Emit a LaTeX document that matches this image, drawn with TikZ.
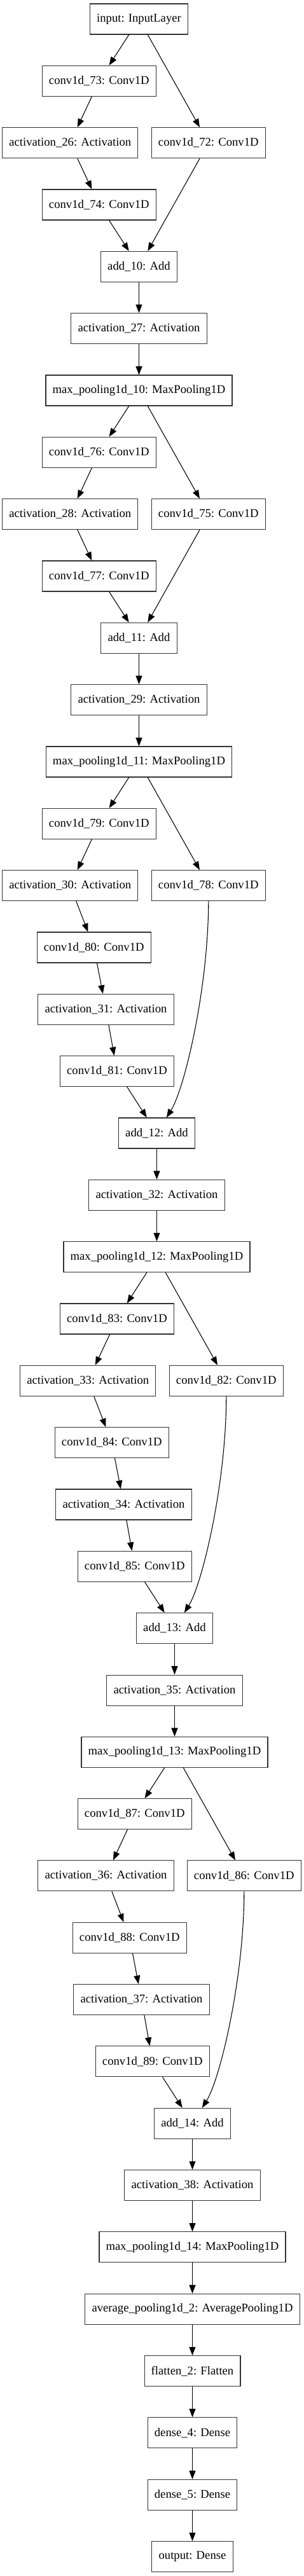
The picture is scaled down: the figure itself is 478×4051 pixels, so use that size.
\documentclass[tikz,border=0pt]{standalone}
\usepackage{fontspec}
\setmainfont{Liberation Serif}
\usetikzlibrary{arrows.meta}

\begin{document}
\begin{tikzpicture}[x=0.75pt, y=-0.75pt,
    layer/.style={draw=black!80, line width=0.8pt, minimum height=36pt,
        inner xsep=8pt, inner ysep=0pt, font=\fontsize{14}{16}\selectfont},
    flow/.style={-{Triangle[length=10pt, width=7.5pt]}, line width=0.8pt},
    skip/.style={flow, out=-90, in=58, in looseness=0.4}]
\useasboundingbox (0,0) rectangle (478,4051);
% First block
    \node[layer] (input)  at (218.5,30)   {input: InputLayer};
    \node[layer] (conv73) at (155.8,127.3) {conv1d\_73: Conv1D};
    \node[layer] (act26)  at (110.3,224.7) {activation\_26: Activation};
    \node[layer] (conv72) at (327.8,224.7) {conv1d\_72: Conv1D};
    \node[layer] (conv74) at (155.8,322.0) {conv1d\_74: Conv1D};
    \node[layer] (add10)  at (218.5,419.3) {add\_10: Add};
    \node[layer] (act27)  at (218.5,516.7) {activation\_27: Activation};
    \node[layer] (pool10) at (218.5,614.0) {max\_pooling1d\_10: MaxPooling1D};
% Second block
    \node[layer] (conv76) at (155.8,711.3) {conv1d\_76: Conv1D};
    \node[layer] (act28)  at (110.3,808.6) {activation\_28: Activation};
    \node[layer] (conv75) at (327.8,808.6) {conv1d\_75: Conv1D};
    \node[layer] (conv77) at (155.8,906.0) {conv1d\_77: Conv1D};
    \node[layer] (add11)  at (218.5,1003.3) {add\_11: Add};
    \node[layer] (act29)  at (218.5,1100.6) {activation\_29: Activation};
    \node[layer] (pool11) at (218.5,1198.0) {max\_pooling1d\_11: MaxPooling1D};
% Third block
    \node[layer] (conv79) at (155.8,1295.3) {conv1d\_79: Conv1D};
    \node[layer] (act30)  at (110.3,1392.6) {activation\_30: Activation};
    \node[layer] (conv78) at (327.8,1392.6) {conv1d\_78: Conv1D};
    \node[layer] (conv80) at (147.8,1490.0) {conv1d\_80: Conv1D};
    \node[layer] (act31)  at (166.5,1587.3) {activation\_31: Activation};
    \node[layer] (conv81) at (184.0,1684.6) {conv1d\_81: Conv1D};
    \node[layer] (add12)  at (246.5,1782.0) {add\_12: Add};
    \node[layer] (act32)  at (246.5,1879.3) {activation\_32: Activation};
    \node[layer] (pool12) at (246.5,1976.6) {max\_pooling1d\_12: MaxPooling1D};
% Fourth block
    \node[layer] (conv83) at (184.0,2074.0) {conv1d\_83: Conv1D};
    \node[layer] (act33)  at (138.3,2171.3) {activation\_33: Activation};
    \node[layer] (conv82) at (355.8,2171.3) {conv1d\_82: Conv1D};
    \node[layer] (conv84) at (175.8,2268.6) {conv1d\_84: Conv1D};
    \node[layer] (act34)  at (194.5,2366.0) {activation\_34: Activation};
    \node[layer] (conv85) at (211.8,2463.3) {conv1d\_85: Conv1D};
    \node[layer] (add13)  at (274.5,2560.6) {add\_13: Add};
    \node[layer] (act35)  at (274.5,2658.0) {activation\_35: Activation};
    \node[layer] (pool13) at (274.5,2755.3) {max\_pooling1d\_13: MaxPooling1D};
% Fifth block
    \node[layer] (conv87) at (211.8,2852.6) {conv1d\_87: Conv1D};
    \node[layer] (act36)  at (166.5,2949.9) {activation\_36: Activation};
    \node[layer] (conv86) at (383.8,2949.9) {conv1d\_86: Conv1D};
    \node[layer] (conv88) at (203.8,3047.3) {conv1d\_88: Conv1D};
    \node[layer] (act37)  at (222.5,3144.6) {activation\_37: Activation};
    \node[layer] (conv89) at (239.8,3241.9) {conv1d\_89: Conv1D};
    \node[layer] (add14)  at (302.5,3339.3) {add\_14: Add};
    \node[layer] (act38)  at (302.5,3436.6) {activation\_38: Activation};
    \node[layer] (pool14) at (302.5,3533.9) {max\_pooling1d\_14: MaxPooling1D};
% Head
    \node[layer] (avgpool) at (302.5,3631.3) {average\_pooling1d\_2: AveragePooling1D};
    \node[layer] (flat)    at (302.5,3728.6) {flatten\_2: Flatten};
    \node[layer] (dense4)  at (302.5,3825.9) {dense\_4: Dense};
    \node[layer] (dense5)  at (302.5,3923.3) {dense\_5: Dense};
    \node[layer] (output)  at (302.5,4020.6) {output: Dense};
% Edges, first block
    \draw[flow] (input) -- (conv73);
    \draw[flow] (input) -- (conv72);
    \draw[flow] (conv73) -- (act26);
    \draw[flow] (act26) -- (conv74);
    \draw[flow] (conv74) -- (add10);
    \draw[flow] (conv72) -- (add10);
    \draw[flow] (add10) -- (act27);
    \draw[flow] (act27) -- (pool10);
% Edges, second block
    \draw[flow] (pool10) -- (conv76);
    \draw[flow] (pool10) -- (conv75);
    \draw[flow] (conv76) -- (act28);
    \draw[flow] (act28) -- (conv77);
    \draw[flow] (conv77) -- (add11);
    \draw[flow] (conv75) -- (add11);
    \draw[flow] (add11) -- (act29);
    \draw[flow] (act29) -- (pool11);
% Edges, third block
    \draw[flow] (pool11) -- (conv79);
    \draw[flow] (pool11) -- (conv78);
    \draw[flow] (conv79) -- (act30);
    \draw[flow] (act30) -- (conv80);
    \draw[flow] (conv80) -- (act31);
    \draw[flow] (act31) -- (conv81);
    \draw[flow] (conv81) -- (add12);
    \draw[skip] (conv78) to (add12);
    \draw[flow] (add12) -- (act32);
    \draw[flow] (act32) -- (pool12);
% Edges, fourth block
    \draw[flow] (pool12) -- (conv83);
    \draw[flow] (pool12) -- (conv82);
    \draw[flow] (conv83) -- (act33);
    \draw[flow] (act33) -- (conv84);
    \draw[flow] (conv84) -- (act34);
    \draw[flow] (act34) -- (conv85);
    \draw[flow] (conv85) -- (add13);
    \draw[skip] (conv82) to (add13);
    \draw[flow] (add13) -- (act35);
    \draw[flow] (act35) -- (pool13);
% Edges, fifth block
    \draw[flow] (pool13) -- (conv87);
    \draw[flow] (pool13) -- (conv86);
    \draw[flow] (conv87) -- (act36);
    \draw[flow] (act36) -- (conv88);
    \draw[flow] (conv88) -- (act37);
    \draw[flow] (act37) -- (conv89);
    \draw[flow] (conv89) -- (add14);
    \draw[skip] (conv86) to (add14);
    \draw[flow] (add14) -- (act38);
    \draw[flow] (act38) -- (pool14);
% Edges, head
    \draw[flow] (pool14) -- (avgpool);
    \draw[flow] (avgpool) -- (flat);
    \draw[flow] (flat) -- (dense4);
    \draw[flow] (dense4) -- (dense5);
    \draw[flow] (dense5) -- (output);
\end{tikzpicture}
\end{document}
